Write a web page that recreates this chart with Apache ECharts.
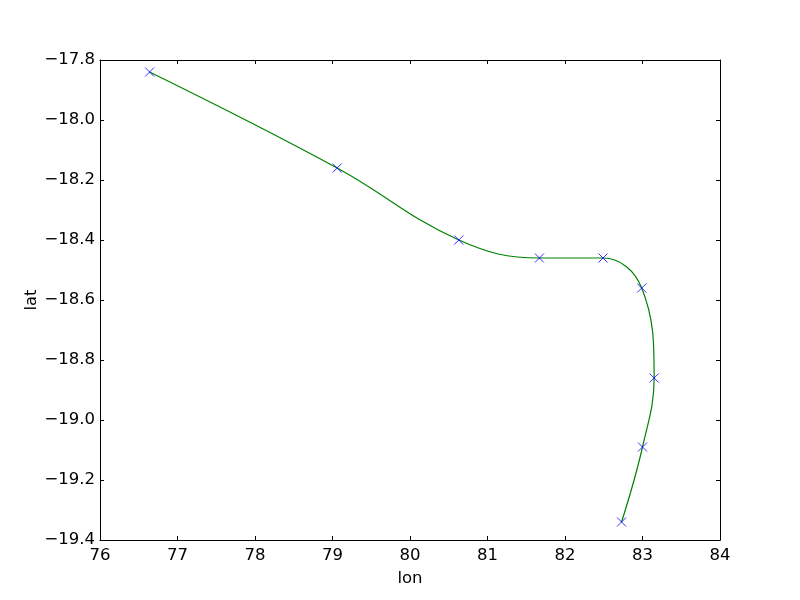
<!DOCTYPE html>
<html>
<head>
<meta charset="utf-8">
<script src="https://cdn.jsdelivr.net/npm/echarts@6/dist/echarts.min.js"></script>
<style>html,body{margin:0;padding:0;background:#fff}#c{width:800px;height:600px}</style>
</head>
<body>
<div id="c"></div>
<script>
const lon = [76.64, 79.06, 80.63, 81.67, 82.49, 82.99, 83.15, 83.00, 82.73];
const lat = [-17.84, -18.16, -18.40, -18.46, -18.46, -18.56, -18.86, -19.09, -19.34];
const xTicks = [76, 77, 78, 79, 80, 81, 82, 83, 84];
const yTicks = [-19.4, -19.2, -19.0, -18.8, -18.6, -18.4, -18.2, -18.0, -17.8];

const pts = lon.map((v, i) => [v, lat[i]]);
const FONT = 'DejaVu Sans';
const FS = 16.5;
const fmt = v => (v < 0 ? '\u2212' : '') + Math.abs(v).toFixed(1);

const baseX = {
  type: 'value', min: xTicks[0], max: xTicks[xTicks.length - 1], interval: 1,
  axisLine: { show: true, onZero: false, lineStyle: { color: '#000', width: 1 } },
  axisTick: { show: true, inside: true, length: 4, lineStyle: { color: '#000' } },
  splitLine: { show: false }
};
const baseY = {
  type: 'value', min: yTicks[0], max: yTicks[yTicks.length - 1], interval: 0.2,
  axisLine: { show: true, onZero: false, lineStyle: { color: '#000', width: 1 } },
  axisTick: { show: true, inside: true, length: 4, lineStyle: { color: '#000' } },
  splitLine: { show: false }
};

const chart = echarts.init(document.getElementById('c'), null, { renderer: 'canvas' });
chart.setOption({
  backgroundColor: '#fff',
  animation: false,
  grid: { left: 100, right: 80, top: 60, bottom: 60, show: false },
  xAxis: [
    Object.assign({}, baseX, {
      position: 'bottom',
      name: 'lon', nameLocation: 'middle', nameGap: 30, nameMoveOverlap: false,
      nameTextStyle: { fontFamily: FONT, fontSize: FS, color: '#000' },
      axisLabel: { show: true, margin: 7, fontFamily: FONT, fontSize: FS, color: '#000',
        formatter: v => String(Math.round(v)) }
    }),
    Object.assign({}, baseX, { position: 'top', axisLabel: { show: false } })
  ],
  yAxis: [
    Object.assign({}, baseY, {
      position: 'left',
      name: 'lat', nameLocation: 'middle', nameGap: 60, nameMoveOverlap: false,
      nameTextStyle: { fontFamily: FONT, fontSize: FS, color: '#000' },
      axisLabel: { show: true, margin: 5, fontFamily: FONT, fontSize: FS, color: '#000',
        formatter: v => fmt(v) }
    }),
    Object.assign({}, baseY, { position: 'right', axisLabel: { show: false } })
  ],
  series: [
    {
      type: 'line', data: pts, xAxisIndex: 0, yAxisIndex: 0,
      smooth: 0.4, showSymbol: false, symbol: 'none',
      lineStyle: { color: '#008000', width: 1.2 }, z: 2
    },
    {
      type: 'scatter', data: pts, xAxisIndex: 0, yAxisIndex: 0,
      symbol: 'path://M0,0L10,10M10,0L0,10', symbolSize: 9,
      itemStyle: { color: 'none', borderColor: '#0000ff', borderWidth: 1 }, z: 3
    }
  ]
});
</script>
</body>
</html>
